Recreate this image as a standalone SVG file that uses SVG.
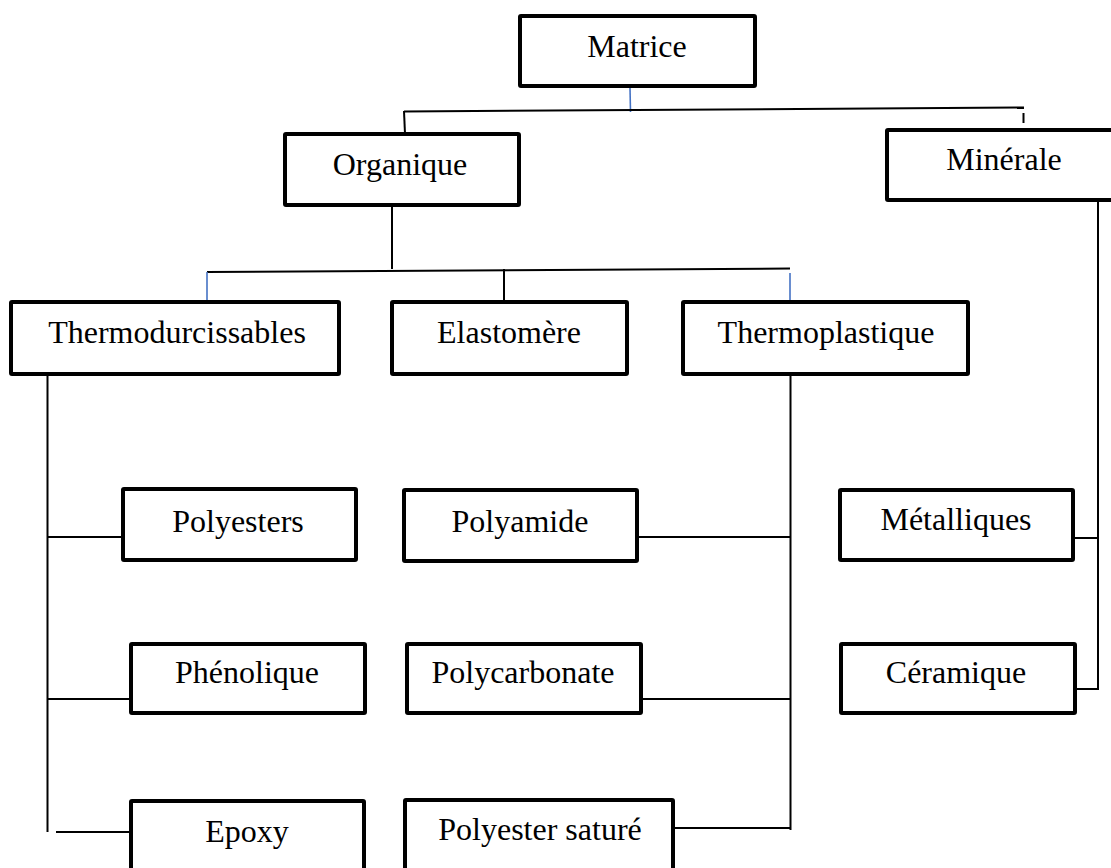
<svg xmlns="http://www.w3.org/2000/svg" width="1111" height="868" viewBox="0 0 1111 868">
<style>
  .box { fill: #ffffff; stroke: #000000; stroke-width: 4; }
  .lbl { font-family: "Liberation Serif", "Times New Roman", serif; font-size: 32px; fill: #000000; text-anchor: middle; }
  .ln { stroke: #000000; stroke-width: 2; fill: none; }
  .lnb { stroke: #4472C4; stroke-width: 1.6; fill: none; }
</style>
<rect x="0" y="0" width="1111" height="868" fill="#ffffff"/>
<g id="connectors">
  <line class="lnb" x1="630" y1="88" x2="630.5" y2="112"/>
  <line class="ln" x1="404" y1="111.5" x2="1024" y2="107.5"/>
  <line class="ln" x1="404" y1="111" x2="405" y2="134"/>
  <line class="ln" x1="1023.5" y1="113" x2="1023.5" y2="123"/>
  <line class="ln" x1="392" y1="207" x2="392" y2="269"/>
  <line class="ln" x1="207" y1="272" x2="790" y2="268.5"/>
  <line class="lnb" x1="207" y1="272" x2="207" y2="300"/>
  <line class="ln" x1="504" y1="269" x2="504" y2="300"/>
  <line class="lnb" x1="790" y1="273" x2="790" y2="304"/>
  <line class="ln" x1="47.5" y1="376" x2="47.5" y2="832" stroke-width="1.6"/>
  <line class="ln" x1="47" y1="537" x2="121" y2="537"/>
  <line class="ln" x1="47" y1="699" x2="129" y2="699"/>
  <line class="ln" x1="56" y1="832" x2="129" y2="832"/>
  <line class="ln" x1="790.5" y1="376" x2="790.5" y2="830" stroke-width="1.6"/>
  <line class="ln" x1="639" y1="537" x2="790" y2="537"/>
  <line class="ln" x1="643" y1="699" x2="790" y2="699"/>
  <line class="ln" x1="675" y1="828" x2="790" y2="828"/>
  <line class="ln" x1="1098" y1="196" x2="1098" y2="690"/>
  <line class="ln" x1="1075" y1="538" x2="1098" y2="538"/>
  <line class="ln" x1="1077" y1="689" x2="1098" y2="689"/>
</g>
<g id="matrice"><rect class="box" x="520" y="16" width="235" height="70" rx="1"/><text class="lbl" x="637" y="57">Matrice</text></g>
<g id="organique"><rect class="box" x="285" y="134" width="234" height="71" rx="1"/><text class="lbl" x="400" y="175">Organique</text></g>
<g id="minerale"><rect class="box" x="887" y="130" width="230" height="70" rx="1"/><text class="lbl" x="1004" y="170">Minérale</text></g>
<g id="thermodurcissables"><rect class="box" x="11" y="302" width="328" height="72" rx="1"/><text class="lbl" x="177" y="343">Thermodurcissables</text></g>
<g id="elastomere"><rect class="box" x="392" y="302" width="235" height="72" rx="1"/><text class="lbl" x="509" y="343">Elastomère</text></g>
<g id="thermoplastique"><rect class="box" x="683" y="302" width="285" height="72" rx="1"/><text class="lbl" x="826" y="343">Thermoplastique</text></g>
<g id="polyesters"><rect class="box" x="123" y="489" width="233" height="71" rx="1"/><text class="lbl" x="238" y="532">Polyesters</text></g>
<g id="polyamide"><rect class="box" x="404" y="490" width="233" height="71" rx="1"/><text class="lbl" x="520" y="532">Polyamide</text></g>
<g id="metalliques"><rect class="box" x="840" y="490" width="233" height="70" rx="1"/><text class="lbl" x="956" y="530">Métalliques</text></g>
<g id="phenolique"><rect class="box" x="131" y="644" width="234" height="69" rx="1"/><text class="lbl" x="247" y="683">Phénolique</text></g>
<g id="polycarbonate"><rect class="box" x="407" y="644" width="234" height="69" rx="1"/><text class="lbl" x="523" y="683">Polycarbonate</text></g>
<g id="ceramique"><rect class="box" x="841" y="644" width="234" height="69" rx="1"/><text class="lbl" x="956" y="683">Céramique</text></g>
<g id="epoxy"><rect class="box" x="131" y="801" width="233" height="80" rx="1"/><text class="lbl" x="247" y="842">Epoxy</text></g>
<g id="polyester-sature"><rect class="box" x="405" y="800" width="268" height="80" rx="1"/><text class="lbl" x="540" y="840">Polyester saturé</text></g>
</svg>
